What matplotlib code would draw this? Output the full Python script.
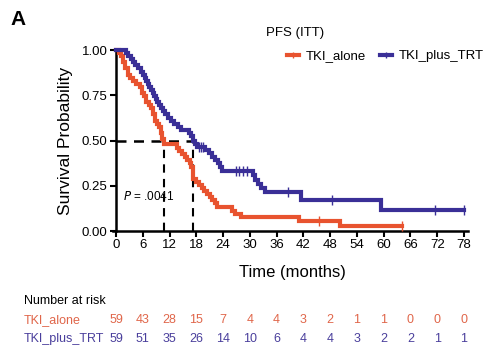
import numpy as np
import matplotlib
matplotlib.use("Agg")
import matplotlib.pyplot as plt
from matplotlib.lines import Line2D

plt.rcParams['font.family'] = ['Liberation Sans', 'DejaVu Sans']

# Kaplan-Meier step data (months, survival after the step)
alone_times = [0.6, 1.1, 1.5, 2.0, 2.6, 3.2, 3.8, 4.5, 5.3, 5.8, 6.3, 6.8, 7.4, 7.9,
               8.3, 8.7, 9.2, 9.6, 10.0, 10.4, 10.8, 13.6, 14.2, 14.8, 15.4, 16.0,
               16.5, 16.9, 17.3, 17.9, 18.5, 19.2, 19.8, 20.4, 21.0, 21.6, 22.1,
               22.6, 25.9, 26.6, 28.0, 41.0, 50.3]
alone_surv = [0.983, 0.966, 0.932, 0.898, 0.864, 0.847, 0.830, 0.813, 0.797, 0.763,
              0.746, 0.712, 0.695, 0.678, 0.644, 0.610, 0.593, 0.576, 0.542, 0.508,
              0.480, 0.458, 0.441, 0.424, 0.407, 0.390, 0.373, 0.356, 0.288, 0.271,
              0.254, 0.237, 0.220, 0.203, 0.186, 0.169, 0.152, 0.130, 0.113, 0.096,
              0.077, 0.057, 0.028]
alone_censor = [45.4, 64.0]

trt_times = [2.2, 2.8, 3.3, 3.8, 4.3, 4.9, 5.5, 6.0, 6.4, 6.8, 7.2, 7.5, 7.8, 8.2,
             8.6, 8.9, 9.3, 9.6, 10.0, 10.5, 11.0, 11.6, 12.3, 13.0, 13.8, 14.6,
             16.3, 16.8, 17.2, 17.6, 18.2, 20.0, 20.8, 21.5, 22.2, 22.8, 23.4, 23.8,
             30.6, 31.2, 31.8, 32.6, 33.5, 41.4, 59.3]
trt_surv = [0.983, 0.966, 0.949, 0.932, 0.915, 0.898, 0.881, 0.864, 0.847, 0.830,
            0.813, 0.797, 0.780, 0.763, 0.746, 0.729, 0.712, 0.695, 0.678, 0.661,
            0.644, 0.627, 0.610, 0.593, 0.576, 0.559, 0.542, 0.525, 0.500, 0.483,
            0.466, 0.449, 0.430, 0.411, 0.392, 0.373, 0.354, 0.330, 0.307, 0.284,
            0.262, 0.240, 0.217, 0.171, 0.116]
trt_censor = [18.5, 19.0, 19.6, 26.8, 27.6, 28.4, 29.4, 38.5, 48.5, 71.6, 78.0]

median_alone = 10.7
median_trt = 17.2

risk_times = [0, 6, 12, 18, 24, 30, 36, 42, 48, 54, 60, 66, 72, 78]
risk_alone = [59, 43, 28, 15, 7, 4, 4, 3, 2, 1, 1, 0, 0, 0]
risk_trt = [59, 51, 35, 26, 14, 10, 6, 4, 4, 3, 2, 2, 1, 1]

RED = '#E8532F'
BLUE = '#3A2F97'
RED_TXT = '#E0664A'
BLUE_TXT = '#4A3F9C'

fig = plt.figure(figsize=(4.88, 3.48), dpi=100)
ax = fig.add_axes([0.2377, 0.3362, 0.7223, 0.5201])


def step_line(times, surv, end):
    t = np.concatenate([[0.0], times, [end]])
    s = np.concatenate([[1.0], surv, [surv[-1]]])
    return t, s


def surv_at(times, surv, t):
    idx = np.searchsorted(times, t, side='right') - 1
    return np.where(idx < 0, 1.0, np.asarray(surv)[np.maximum(idx, 0)])


for times, surv, cens, col in [(alone_times, alone_surv, alone_censor, RED),
                               (trt_times, trt_surv, trt_censor, BLUE)]:
    t, s = step_line(np.array(times), np.array(surv), max(cens))
    ax.step(t, s, where='post', color=col, lw=3.0, solid_joinstyle='miter',
            clip_on=False, zorder=3)
    ax.plot(cens, surv_at(times, surv, np.array(cens)), ls='none', marker='|',
            ms=7, mew=1.0, color=col, clip_on=False, zorder=4)

# median survival guides
ax.plot([0, median_trt], [0.5, 0.5], color='black', lw=1.8, ls=(0, (4, 3)), zorder=2)
for m in (median_alone, median_trt):
    ax.plot([m, m], [0, 0.5], color='black', lw=1.5, ls=(0, (4, 3)), zorder=2)

ax.text(1.6, 0.19, r'$P$ = .0041', fontsize=8.5, va='center', ha='left')

ax.set_xlim(0, 79)
ax.set_ylim(0, 1.0)
ax.set_xticks(risk_times)
ax.set_yticks([0, 0.25, 0.5, 0.75, 1.0])
ax.set_yticklabels(['0.00', '0.25', '0.50', '0.75', '1.00'])
for side in ('top', 'right'):
    ax.spines[side].set_visible(False)
for side in ('left', 'bottom'):
    ax.spines[side].set_linewidth(1.8)
ax.spines['bottom'].set_bounds(-0.7, 79)
ax.tick_params(direction='out', length=4, width=1.5, labelsize=9.5, pad=2)
ax.set_ylabel('Survival Probability', fontsize=12.5, labelpad=6)
ax.set_xlabel('Time (months)', fontsize=12, labelpad=10)

fig.text(0.022, 0.945, 'A', fontsize=15, fontweight='bold', ha='left', va='center')

# legend
fig.text(0.545, 0.905, 'PFS (ITT)', fontsize=9.5, ha='left', va='center')
handles = [Line2D([], [], color=RED, lw=3, marker='|', ms=5, mew=1.0),
           Line2D([], [], color=BLUE, lw=3, marker='|', ms=5, mew=1.0)]
fig.legend(handles, ['TKI_alone', 'TKI_plus_TRT'], ncol=2, frameon=False,
           loc='center left', bbox_to_anchor=(0.588, 0.838), fontsize=9.5,
           handlelength=0.9, handletextpad=0.5, columnspacing=1.1,
           borderaxespad=0, borderpad=0)

# number at risk table
fig.text(0.049, 0.135, 'Number at risk', fontsize=9, ha='left', va='center')
fig.text(0.049, 0.080, 'TKI_alone', fontsize=9, ha='left', va='center', color=RED_TXT)
fig.text(0.049, 0.025, 'TKI_plus_TRT', fontsize=9, ha='left', va='center', color=BLUE_TXT)
for t, a, b in zip(risk_times, risk_alone, risk_trt):
    xf = fig.transFigure.inverted().transform(ax.transData.transform((t, 0)))[0]
    fig.text(xf, 0.080, str(a), fontsize=9, ha='center', va='center', color=RED_TXT)
    fig.text(xf, 0.025, str(b), fontsize=9, ha='center', va='center', color=BLUE_TXT)

fig.savefig('out.png', dpi=100)
